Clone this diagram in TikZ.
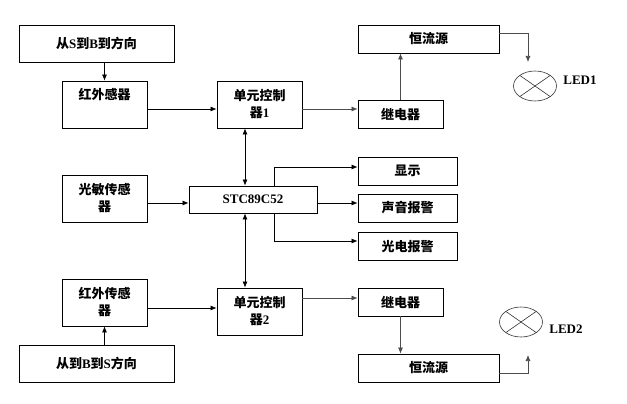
\documentclass[tikz,border=0pt]{standalone}
\usepackage{fontspec}
\setmainfont{Liberation Serif}
\newfontfamily\cjk{Noto Sans CJK SC}
\usetikzlibrary{arrows.meta}
\newcommand{\zh}[1]{{\cjk #1}}

\begin{document}
\begin{tikzpicture}[x=1pt,y=-1pt,
box/.style = {draw,line width=0.8pt,align=center,inner sep=0pt,
        font=\bfseries\fontsize{13}{17}\selectfont},
wide/.style = {box,minimum width=155pt,minimum height=37pt},
unit/.style = {box,minimum width=85pt,minimum height=47pt},
flat/.style = {box,minimum width=85pt,minimum height=28pt},
long/.style = {box,minimum width=141pt,minimum height=28pt},
alarm/.style = {box,minimum width=99pt,minimum height=28pt},
lamp/.style = {line width=0.6pt,black!80},
arr/.style = {line width=0.7pt,-{Latex[length=6pt,width=5pt]}},
pwr/.style = {arr,black!70},
both/.style = {line width=0.7pt,{Latex[length=6pt,width=5pt]}-{Latex[length=6pt,width=5pt]}},
tag/.style = {font=\bfseries\fontsize{13}{15}\selectfont}]

        \useasboundingbox (0,0) rectangle (627,404);

        % upper channel
        \node[wide] (dirSB) at ( 96.5, 43.5 ) {\zh{从}S\zh{到}B\zh{到方向}};
        \node[unit] (ir1) at ( 104.5, 104.5 ) {\zh{红外感器}\\\strut};
        \node[unit] (ctl1) at ( 259.5, 104.5 ) {\zh{单元控制}\\\zh{器}1};
        \node[flat] (rly1) at ( 400.5, 114 ) {\zh{继电器}};
        \node[long] (src1) at ( 428.5, 39 ) {\zh{恒流源}};
        \coordinate (led1) at ( 535, 86 );
        \draw[lamp] (led1) ellipse [x radius=21.5pt, y radius=15pt];
        \draw[lamp] ([shift={(-15.2,-10.6)}]led1) -- ([shift={(15.2,10.6)}]led1);
        \draw[lamp] ([shift={(15.2,-10.6)}]led1) -- ([shift={(-15.2,10.6)}]led1);
        \node[tag] (led1txt) at ( 580, 80 ) {LED1};

        % middle
        \node[unit] (photo) at ( 104.5, 198.5 ) {\zh{光敏传感}\\\zh{器}};
        \node[box,minimum width=128pt,minimum height=27pt] (mcu) at ( 253, 199.5 ) {STC89C52};
        \node[alarm] (disp) at ( 407.5, 171 ) {\zh{显示}};
        \node[alarm] (sound) at ( 407.5, 208 ) {\zh{声音报警}};
        \node[alarm] (light) at ( 407.5, 246.5 ) {\zh{光电报警}};

        % lower channel
        \node[unit] (ir2) at ( 104.5, 302.5 ) {\zh{红外传感}\\\zh{器}};
        \node[unit] (ctl2) at ( 259.5, 311.5 ) {\zh{单元控制}\\\zh{器}2};
        \node[wide] (dirBS) at ( 96.5, 363.5 ) {\zh{从到}B\zh{到}S\zh{方向}};
        \node[flat] (rly2) at ( 400.5, 302 ) {\zh{继电器}};
        \node[long] (src2) at ( 428.5, 368 ) {\zh{恒流源}};
        \coordinate (led2) at ( 521, 322 );
        \draw[lamp] (led2) ellipse [x radius=21.5pt, y radius=15pt];
        \draw[lamp] ([shift={(-15.2,-10.6)}]led2) -- ([shift={(15.2,10.6)}]led2);
        \draw[lamp] ([shift={(15.2,-10.6)}]led2) -- ([shift={(-15.2,10.6)}]led2);
        \node[tag] (led2txt) at ( 566, 329 ) {LED2};

        \draw[arr] (dirSB.south -| ir1.north) -- (ir1.north);
        \draw[arr] ([yshift=-4.5pt]ir1.east) -- ([yshift=-4.5pt]ctl1.west);
        \draw[pwr] ([yshift=-4.5pt]ctl1.east) -- ([yshift=-4.5pt]ctl1.east -| rly1.west);
        \draw[pwr] (rly1.north) -- (rly1.north |- src1.south);
        \draw[pwr] ([yshift=6pt]src1.east) -| ([shift={(-7,-24)}]led1);
        \draw[both] ([xshift=-14.5pt]ctl1.south) -- ([xshift=-14.5pt]ctl1.south |- mcu.north);

        \draw[arr] ([yshift=-4.5pt]photo.east) -- ([yshift=-4.5pt]photo.east -| mcu.west);
        \draw[arr] ([xshift=21pt]mcu.north) |- ([yshift=4pt]disp.west);
        \draw[arr] ([yshift=-3.5pt]mcu.east) -- ([yshift=-3.5pt]mcu.east -| sound.west);
        \draw[arr] ([xshift=21pt]mcu.south) |- ([yshift=5.5pt]light.west);
        \draw[both] ([xshift=-8pt]mcu.south) -- ([xshift=-8pt]mcu.south |- ctl2.north);

        \draw[arr] ([yshift=-5.5pt]ir2.east) -- ([yshift=-5.5pt]ir2.east -| ctl2.west);
        \draw[arr] (dirBS.north -| ir2.south) -- (ir2.south);
        \draw[pwr] ([yshift=13.5pt]ctl2.east) -- ([yshift=13.5pt]ctl2.east -| rly2.west);
        \draw[pwr] (rly2.south) -- (rly2.south |- src2.north);
        \draw[pwr] ([yshift=-5pt]src2.east) -| ([shift={(7,33)}]led2);

\end{tikzpicture}
\end{document}
